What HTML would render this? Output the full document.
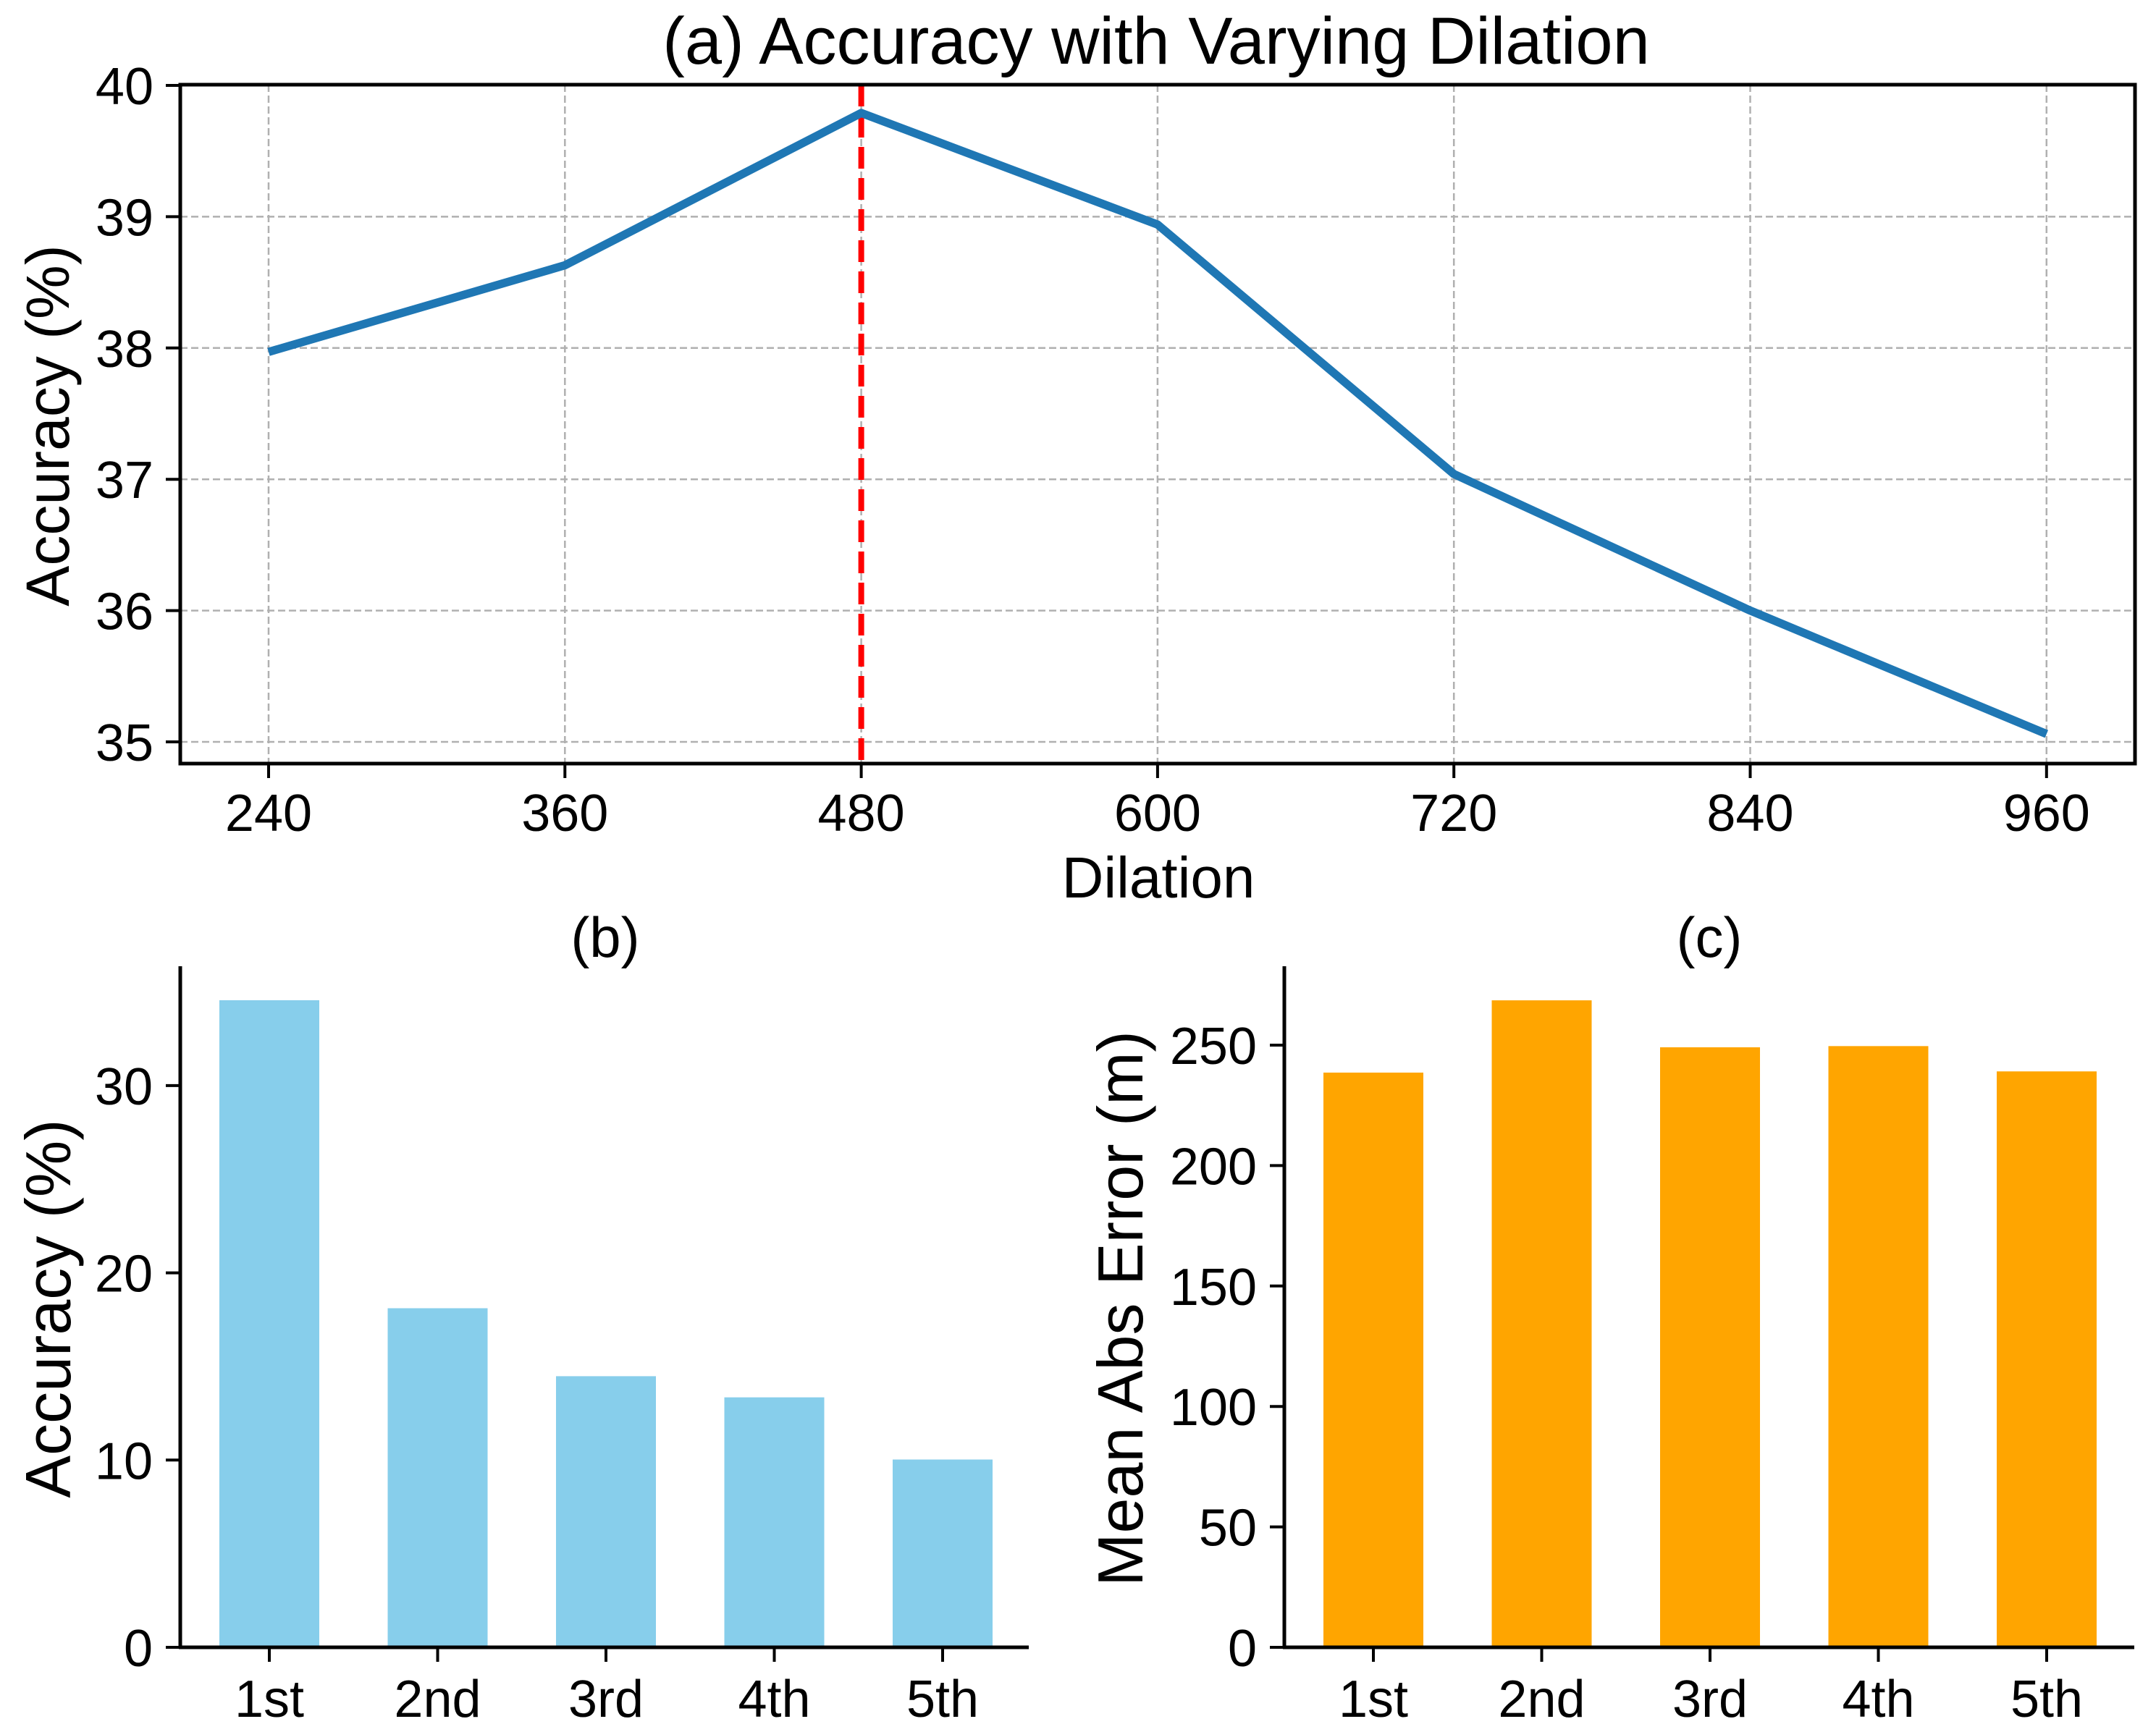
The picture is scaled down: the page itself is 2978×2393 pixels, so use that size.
<!DOCTYPE html>
<html><head><meta charset="utf-8"><style>
html,body{margin:0;padding:0;background:#fff;}
svg{display:block;font-family:"Liberation Sans",Arial,sans-serif;}
</style></head><body>
<svg id="fig" width="2978" height="2393" viewBox="0 0 2978 2393" xmlns="http://www.w3.org/2000/svg">
<rect width="2978" height="2393" fill="#fff"/>
<g id="ga"></g>
<g id="gb"></g>
<g id="gc"></g>
</svg>
<script>
const dilations = [240, 360, 480, 600, 720, 840, 960];
const accuracyA = [37.97, 38.63, 39.79, 38.94, 37.04, 36.0, 35.06];
const yTicksA = [35, 36, 37, 38, 39, 40];
const bestDilation = 480;
const ranks = ["1st", "2nd", "3rd", "4th", "5th"];
const accuracyB = [34.56, 18.11, 14.48, 13.35, 10.03];
const yTicksB = [0, 10, 20, 30];
const maeC = [238.6, 268.6, 249.1, 249.6, 239.1];
const yTicksC = [0, 50, 100, 150, 200, 250];

const NS = "http://www.w3.org/2000/svg";
function mk(parent, tag, attrs, text) {
  const e = document.createElementNS(NS, tag);
  for (const k in attrs) e.setAttribute(k, attrs[k]);
  if (text !== undefined) e.textContent = text;
  parent.appendChild(e);
  return e;
}

// ---------- Panel A ----------
const ga = document.getElementById('ga');
const aL = 249, aR = 2949, aT = 117, aB = 1055;
const xA = v => 371 + (v - 240) * (409.3 / 120);
const yA = v => 1025 - (v - 35) * 181.4;
yTicksA.forEach(t => {
  const g = mk(ga, 'line', {x1: aL, x2: aR, y1: yA(t), y2: yA(t), stroke: '#b0b0b0', 'stroke-width': 2.5, 'stroke-dasharray': '10,5'});
  
  
  const tk = mk(ga, 'line', {x1: aL - 20, x2: aL, y1: yA(t), y2: yA(t), stroke: '#000', 'stroke-width': 4});
  
  
  const lb = mk(ga, 'text', {x: 212, y: yA(t) + 26, 'font-size': 72, 'text-anchor': 'end'}, String(t));
  
  
});
dilations.forEach(d => {
  const g = mk(ga, 'line', {x1: xA(d), x2: xA(d), y1: aT, y2: aB, stroke: '#b0b0b0', 'stroke-width': 2.5, 'stroke-dasharray': '10,5'});
  
  
  const tk = mk(ga, 'line', {x1: xA(d), x2: xA(d), y1: aB, y2: aB + 20, stroke: '#000', 'stroke-width': 4});
  
  
  const lb = mk(ga, 'text', {x: xA(d), y: 1148, 'font-size': 72, 'text-anchor': 'middle'}, String(d));
  
  
});
const vline = mk(ga, 'line', {x1: xA(bestDilation), x2: xA(bestDilation), y1: aT, y2: aB, stroke: '#ff0000', 'stroke-width': 8, 'stroke-dasharray': '30,13'});


const pts = dilations.map((d, i) => xA(d) + ',' + yA(accuracyA[i])).join(' ');
const line = mk(ga, 'polyline', {points: pts, fill: 'none', stroke: '#1f77b4', 'stroke-width': 11.5, 'stroke-linejoin': 'round'});


const frame = mk(ga, 'rect', {x: aL, y: aT, width: aR - aL, height: aB - aT, fill: 'none', stroke: '#000', 'stroke-width': 5});


const ta = mk(ga, 'text', {x: 1597, y: 88, 'font-size': 92, 'text-anchor': 'middle'}, '(a) Accuracy with Varying Dilation');


const xl = mk(ga, 'text', {x: 1600, y: 1240, 'font-size': 80, 'text-anchor': 'middle'}, 'Dilation');


const yl = mk(ga, 'text', {x: 0, y: 0, 'font-size': 84, 'text-anchor': 'middle', transform: 'translate(95,588) rotate(-90)'}, 'Accuracy (%)');



// ---------- Bar panels ----------
function barPanel(g, id, vals, ticks, L, R, c0, unit, color, title, titleX, ylab, ylabX) {
  const T = 1335, B = 2276;
  const y = v => B - v * unit;
  const x = i => c0 + i * 232.5;
  vals.forEach((v, i) => {
    const r = mk(g, 'rect', {x: x(i) - 69, y: y(v), width: 138, height: B - y(v), fill: color});
    
    
    const tk = mk(g, 'line', {x1: x(i), x2: x(i), y1: B, y2: B + 20, stroke: '#000', 'stroke-width': 4});
    
    
    const lb = mk(g, 'text', {x: x(i), y: 2372, 'font-size': 72, 'text-anchor': 'middle'}, ranks[i]);
    
    
  });
  ticks.forEach(t => {
    const tk = mk(g, 'line', {x1: L - 20, x2: L, y1: y(t), y2: y(t), stroke: '#000', 'stroke-width': 4});
    
    
    const lb = mk(g, 'text', {x: L - 38, y: y(t) + 26, 'font-size': 72, 'text-anchor': 'end'}, String(t));
    
    
  });
  const sl = mk(g, 'line', {x1: L, x2: L, y1: T, y2: B + 2, stroke: '#000', 'stroke-width': 5});
  
  
  const sb = mk(g, 'line', {x1: L - 2, x2: R, y1: B, y2: B, stroke: '#000', 'stroke-width': 5});
  
  
  const tt = mk(g, 'text', {x: titleX, y: 1322, 'font-size': 78, 'text-anchor': 'middle'}, title);
  
  
  const yl = mk(g, 'text', {x: 0, y: 0, 'font-size': 88, 'text-anchor': 'middle', transform: 'translate(' + ylabX + ',1808) rotate(-90)'}, ylab);
  
  
}
barPanel(document.getElementById('gb'), 'b', accuracyB, yTicksB, 249, 1421, 372, 25.87, '#87CEEB', '(b)', 836, 'Accuracy (%)', 97);
barPanel(document.getElementById('gc'), 'c', maeC, yTicksC, 1774, 2948, 1897, 3.328, '#FFA500', '(c)', 2361, 'Mean Abs Error (m)', 1578);
</script>
</body></html>
